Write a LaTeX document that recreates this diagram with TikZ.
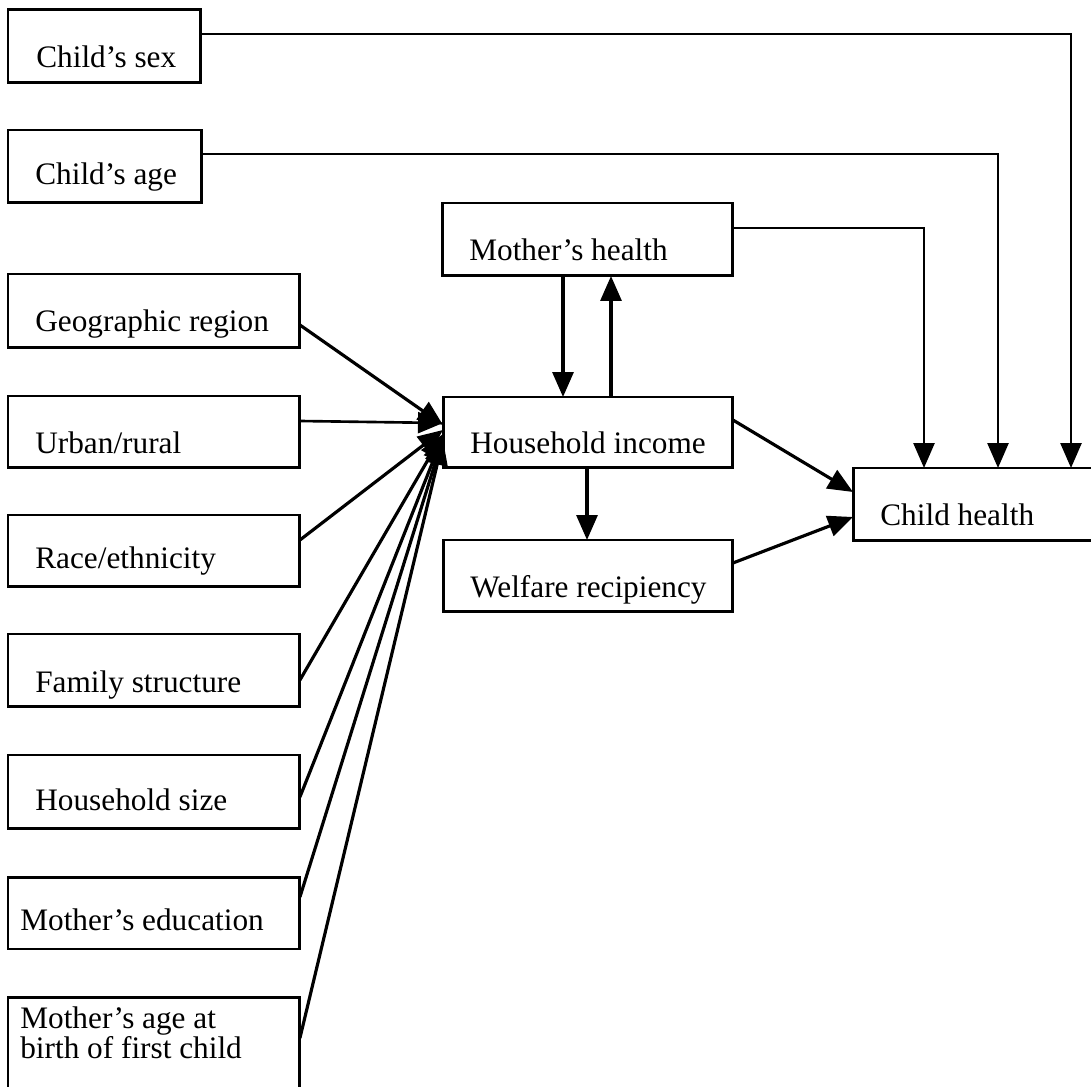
\documentclass[tikz,border=0pt]{standalone}
\usepackage{fontspec}
\setmainfont{Liberation Serif}
\usetikzlibrary{arrows.meta,calc}
\begin{document}
\begin{tikzpicture}[x=0.02cm,y=-0.02cm,
  font=\fontsize{17.8pt}{21pt}\selectfont,
  box/.style={draw,line width=1.7pt,anchor=north west,inner sep=0pt,outer sep=0pt},
  lbl/.style={anchor=base west,inner sep=0pt},
  arr/.style={line width=1.5pt,-{Triangle[length=0.5cm,width=0.42cm]}},
  darr/.style={line width=1.8pt,-{Triangle[length=0.5cm,width=0.42cm]}}]
\useasboundingbox (0,0) rectangle (1091,1087);
% boxes
\node[box,minimum width=3.86cm,minimum height=1.46cm] (sex) at (8,10) {};
\node[box,minimum width=3.88cm,minimum height=1.46cm] (age) at (8,130) {};
\node[box,minimum width=5.84cm,minimum height=1.48cm] (geo) at (8,274) {};
\node[box,minimum width=5.84cm,minimum height=1.44cm] (urb) at (8,396) {};
\node[box,minimum width=5.84cm,minimum height=1.44cm] (race) at (8,515) {};
\node[box,minimum width=5.84cm,minimum height=1.46cm] (fam) at (8,634) {};
\node[box,minimum width=5.84cm,minimum height=1.48cm] (hsz) at (8,755) {};
\node[box,minimum width=5.84cm,minimum height=1.44cm] (medu) at (8,877) {};
\node[box,minimum width=5.84cm,minimum height=2.30cm] (mage) at (8,997) {};
\node[box,minimum width=5.82cm,minimum height=1.46cm] (mh) at (442,203) {};
\node[box,minimum width=5.80cm,minimum height=1.42cm] (hi) at (443,397) {};
\node[box,minimum width=5.80cm,minimum height=1.44cm] (wr) at (443,540) {};
\node[box,minimum width=5.20cm,minimum height=1.46cm] (ch) at (853,468) {};
% texts
\node[lbl] (tsex) at (36,68) {Child’s sex};
\node[lbl] (tage) at (35,185) {Child’s age};
\node[lbl] (tgeo) at (35,332) {Geographic region};
\node[lbl] (turb) at (35,453) {Urban/rural};
\node[lbl] (trace) at (35,568) {Race/ethnicity};
\node[lbl] (tfam) at (35,692) {Family structure};
\node[lbl] (thsz) at (35,810) {Household size};
\node[lbl] (tmedu) at (20,930) {Mother’s education};
\node[anchor=north west,inner sep=0pt,align=left,
  font=\fontsize{17.8pt}{16pt}\selectfont] (tmage) at (20,1006)
  {Mother’s age at\\birth of first child};
\node[lbl] (tmh) at (469,261) {Mother’s health};
\node[lbl] (thi) at (470,453) {Household income};
\node[lbl] (twr) at (470,597) {Welfare recipiency};
\node[lbl] (tch) at (880,525) {Child health};
% connectors to child health from top
\draw[arr] ($(sex.north east)+(0,24)$) -| ($(ch.north west)+(218,0)$);
\draw[arr] ($(age.north east)+(0,24)$) -| ($(ch.north west)+(145,0)$);
\draw[arr] ($(mh.north east)+(0,25)$) -| ($(ch.north west)+(71,0)$);
% mother's health <-> household income
\draw[darr] ($(mh.south west)+(121,0)$) -- ($(hi.north west)+(120,0)$);
\draw[darr] ($(hi.north west)+(168,0)$) -- ($(mh.south west)+(169,0)$);
% household income -> welfare
\draw[darr] ($(hi.south west)+(144,0)$) -- ($(wr.north west)+(144,0)$);
% to child health
\draw[darr] ($(hi.north east)+(0,23)$) -- ($(ch.north west)+(0,24)$);
\draw[darr] ($(wr.north east)+(0,23)$) -- ($(ch.north west)+(0,49)$);
% left factors -> household income
\draw[darr] ($(geo.north east)+(0,51)$) -- ($(hi.north west)+(0,28)$);
\draw[arr] ($(urb.north east)+(0,25)$) -- ($(hi.north west)+(0,26)$);
\draw[darr] ($(race.north east)+(0,25)$) -- ($(hi.north west)+(0,33)$);
\draw[darr] ($(fam.north east)+(0,46)$) -- ($(hi.north west)+(0,37)$);
\draw[darr] ($(hsz.north east)+(0,42)$) -- ($(hi.north west)+(0,39)$);
\draw[darr] ($(medu.north east)+(0,20)$) -- ($(hi.north west)+(0,41)$);
\draw[darr] ($(mage.north east)+(0,41)$) -- ($(hi.north west)+(0,43)$);
\end{tikzpicture}
\end{document}
